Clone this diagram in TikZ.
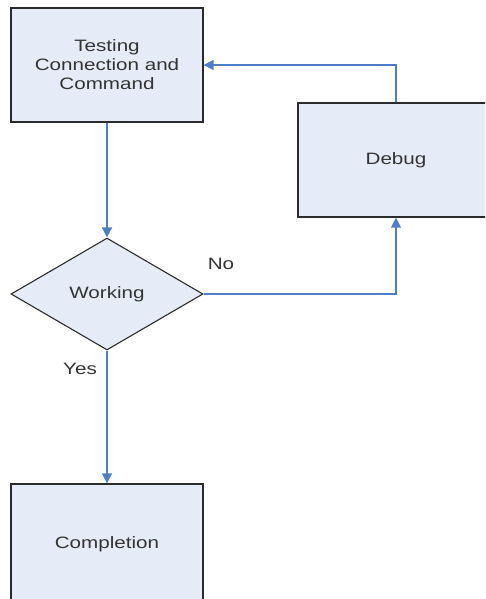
\documentclass[tikz,border=0pt]{standalone}
\usepackage{fontspec}
\setmainfont{Liberation Sans}[FakeStretch=1.25]
\usetikzlibrary{shapes.geometric,arrows.meta}
\definecolor{boxfill}{HTML}{E6ECF7}
\definecolor{boxline}{HTML}{2B2B2B}
\definecolor{flowblue}{HTML}{4C7FC7}
\definecolor{textgray}{HTML}{333333}
\begin{document}
\begin{tikzpicture}[x=1pt,y=-1pt,
  stepbox/.style={draw=boxline,line width=1.3pt,fill=boxfill,minimum width=192pt,
    minimum height=114pt,inner sep=0pt,align=center,text=textgray},
  decision/.style={diamond,draw=boxline,line width=1.1pt,fill=boxfill,minimum width=192pt,
    minimum height=112pt,inner sep=0pt,text=textgray},
  flow/.style={draw=flowblue,line width=1.5pt,-{Triangle[length=10pt,width=10pt]}},
  every node/.style={font=\fontsize{16.5}{19}\selectfont}]
\clip (0,0) rectangle (485,599);
\useasboundingbox (0,0) rectangle (485,599);
% Draw boxes
\node[stepbox] (test) at (107,65) {Testing\\Connection and\\Command};
\node[stepbox,minimum width=196pt] (debug) at (396,160) {Debug};
\node[decision] (work) at (107,294) {Working};
\node[stepbox,minimum height=124pt] (done) at (107,546) {\raisebox{7pt}{Completion}};
% Draw connectors
\draw[flow] (test.south) -- (work.north);
\draw[flow] (work.east) -| (debug.south);
\draw[flow] (debug.north) |- (test.east);
\draw[flow] (work.south) -- (done.north);
% Branch labels
\node[text=textgray] (no) at (221,264) {No};
\node[text=textgray] (yes) at (80,369) {Yes};
\end{tikzpicture}
\end{document}
